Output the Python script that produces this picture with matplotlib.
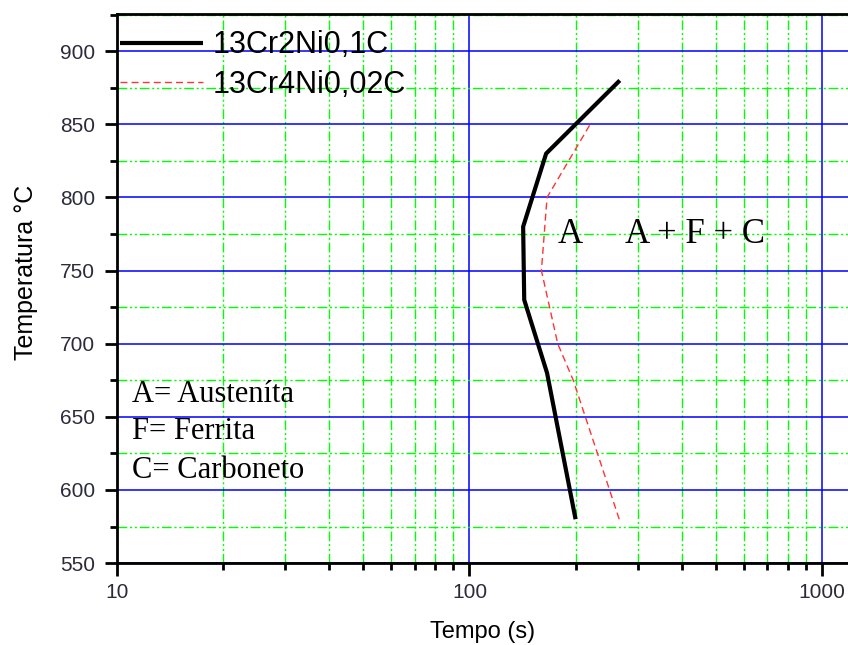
import numpy as np
import matplotlib
matplotlib.use("Agg")
import matplotlib.pyplot as plt
from matplotlib.ticker import FixedLocator, NullFormatter, FixedFormatter

# Curvas de início de transformação (tempo em s, temperatura em °C)
temp_2ni = [580, 680, 730, 780, 830, 880]
tempo_2ni = [200, 166, 143, 142, 165, 267]

temp_4ni = [580, 675, 700, 750, 800, 850]
tempo_4ni = [266, 197, 178, 160, 166, 220]

serie_2ni = "13Cr2Ni0,1C"
serie_4ni = "13Cr4Ni0,02C"

y_ticks = [550, 600, 650, 700, 750, 800, 850, 900]
x_ticks = [10, 100, 1000]

sans = "Liberation Sans"
serif = "Liberation Serif"

fig = plt.figure(figsize=(8.48, 6.45), dpi=100)
ax = fig.add_axes([0.138, 0.127, 0.862, 0.851])

ax.set_xscale("log")
ax.set_xlim(10, 10 ** 3.074)
ax.set_ylim(550, 925.3)

# grade secundária verde (traço-ponto-ponto) e principal azul
green_ls = (0, (7, 2, 1.5, 2, 1.5, 2))
ax.xaxis.set_major_locator(FixedLocator(x_ticks))
ax.xaxis.set_major_formatter(FixedFormatter([str(v) for v in x_ticks]))
ax.xaxis.set_minor_locator(FixedLocator([m * 10 ** e for e in (1, 2) for m in range(2, 10)]))
ax.xaxis.set_minor_formatter(NullFormatter())
ax.yaxis.set_major_locator(FixedLocator(y_ticks))
ax.yaxis.set_minor_locator(FixedLocator([v + 25 for v in y_ticks]))

ax.grid(which="major", color="#0000ff", linestyle="-", linewidth=1.1)
ax.grid(which="minor", color="#00ff00", linestyle=green_ls, linewidth=1.0)
ax.set_axisbelow(True)

ax.plot(tempo_2ni, temp_2ni, color="black", linewidth=3.0,
        solid_capstyle="butt", label=serie_2ni, zorder=3)
ax.plot(tempo_4ni, temp_4ni, color="#ff3333", linewidth=1.0,
        linestyle=(0, (5, 3)), label=serie_4ni, zorder=3)

for side in ["left", "bottom", "top"]:
    ax.spines[side].set_linewidth(2.0)
ax.spines["right"].set_visible(False)

ax.tick_params(which="major", direction="out", length=9, width=2,
               labelsize=15, colors="black", labelcolor="#2b2b3b")
ax.tick_params(which="minor", direction="out", length=5, width=2)
ax.tick_params(axis="x", which="both", top=False, pad=5)
ax.tick_params(axis="y", which="major", pad=7)
for lbl in ax.get_xticklabels() + ax.get_yticklabels():
    lbl.set_family(sans)

ax.set_xlabel("Tempo (s)", fontsize=17, family=sans, labelpad=14)
ax.set_ylabel("Temperatura °C", fontsize=18, family=sans)
ax.yaxis.set_label_coords(-0.108, 0.53)

leg = ax.legend(loc="upper left", frameon=False, prop={"family": sans, "size": 22},
                handlelength=2.7, handletextpad=0.33, labelspacing=0.3,
                borderpad=0.1, borderaxespad=0.0, bbox_to_anchor=(0.0, 0.976))

ax.text(178, 768.7, "A", fontsize=25, family=serif, ha="left", va="baseline")
ax.text(276, 768.7, "A + F + C", fontsize=25, family=serif, ha="left", va="baseline")
ax.text(11.03, 660, "A= Austeníta", fontsize=22, family=serif, ha="left", va="baseline")
ax.text(11.03, 634.5, "F= Ferrita", fontsize=22, family=serif, ha="left", va="baseline")
ax.text(11.03, 608.5, "C= Carboneto", fontsize=22, family=serif, ha="left", va="baseline")

plt.savefig("out.png", dpi=100)
